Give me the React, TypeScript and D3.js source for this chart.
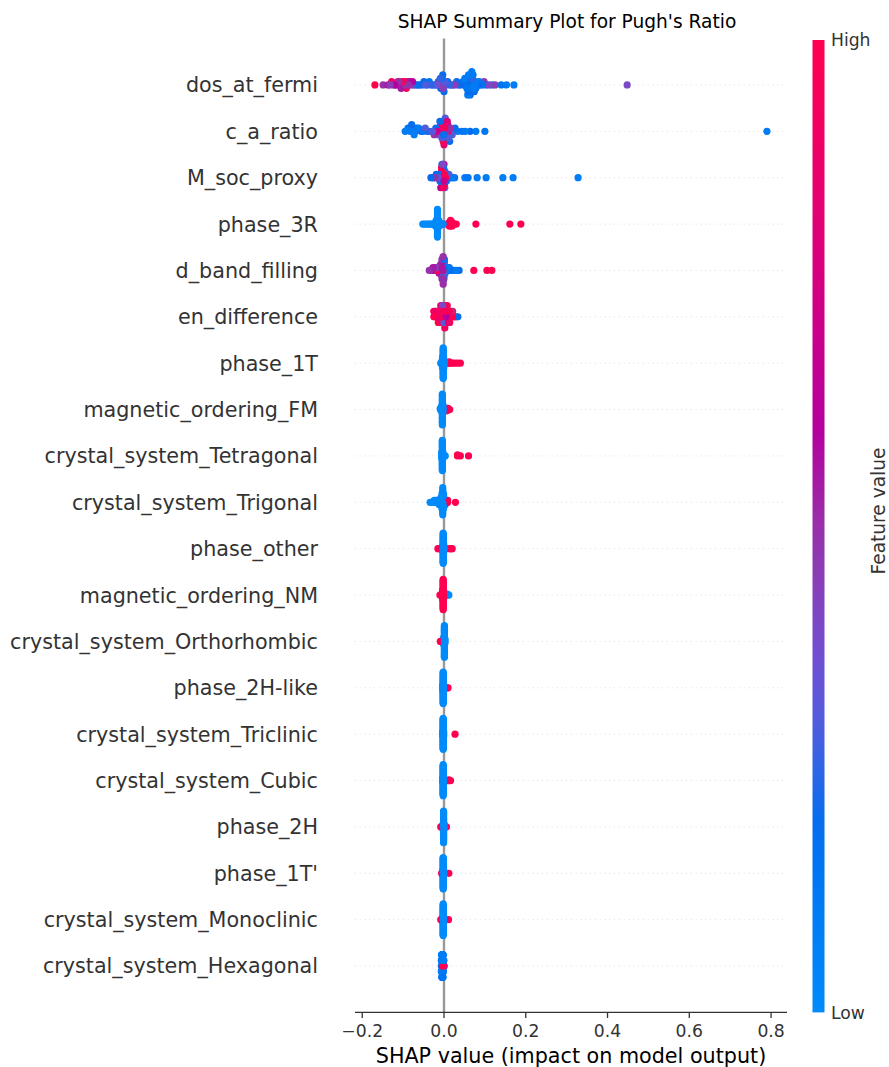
import * as d3 from "d3";
import { useEffect, useRef } from "react";

// [shap value, feature value (0 = low, 1 = high), how many samples]
type Pt = [number, number, number?];

const featureNames = [
  "dos_at_fermi",
  "c_a_ratio",
  "M_soc_proxy",
  "phase_3R",
  "d_band_filling",
  "en_difference",
  "phase_1T",
  "magnetic_ordering_FM",
  "crystal_system_Tetragonal",
  "crystal_system_Trigonal",
  "phase_other",
  "magnetic_ordering_NM",
  "crystal_system_Orthorhombic",
  "phase_2H-like",
  "crystal_system_Triclinic",
  "crystal_system_Cubic",
  "phase_2H",
  "phase_1T'",
  "crystal_system_Monoclinic",
  "crystal_system_Hexagonal",
];

const dosAtFermi: Pt[] = [
  [-0.169, 1], [-0.149, 0.5], [-0.137, 0.55], [-0.132, 0.45], [-0.128, 0.9], [-0.123, 0.5],
  [-0.12, 0.6], [-0.116, 0.45], [-0.113, 0.95], [-0.11, 0.5], [-0.107, 0.85], [-0.105, 0.55],
  [-0.102, 1], [-0.1, 0.45], [-0.097, 0.9], [-0.094, 0.5], [-0.092, 0.95], [-0.089, 0.55],
  [-0.086, 0.5], [-0.083, 1], [-0.08, 0.45], [-0.077, 0.6], [-0.074, 0.4],
  [-0.069, 0.3], [-0.064, 0.2], [-0.059, 0.25], [-0.054, 0.15], [-0.049, 0.2], [-0.045, 0.3],
  [-0.041, 0.2], [-0.036, 0.15], [-0.031, 0.25], [-0.027, 0.2],
  [-0.021, 0.2], [-0.017, 0.35], [-0.014, 0.2], [-0.011, 0.45], [-0.009, 0.25], [-0.008, 0.2],
  [-0.007, 0.5], [-0.005, 0.2], [-0.004, 0.3], [-0.003, 0.2], [-0.002, 0.45], [-0.001, 0.25],
  [0, 0.2], [0.002, 0.3], [0.004, 0.2],
  [0.009, 0.2], [0.013, 0.25], [0.018, 0.2], [0.022, 0.3], [0.027, 0.45], [0.031, 0.2],
  [0.036, 0.25], [0.04, 0.2],
  [0.046, 0.1], [0.049, 0.15], [0.051, 0.1], [0.053, 0.2], [0.055, 0.1], [0.056, 0.15],
  [0.057, 0.1], [0.058, 0.1], [0.059, 0.2], [0.06, 0.1, 2], [0.061, 0.15], [0.062, 0.1],
  [0.063, 0.1], [0.064, 0.2, 2], [0.065, 0.1], [0.066, 0.15], [0.067, 0.1, 2], [0.068, 0.1],
  [0.069, 0.25], [0.07, 0.1], [0.071, 0.15], [0.072, 0.1], [0.073, 0.1], [0.074, 0.2],
  [0.076, 0.1], [0.078, 0.15], [0.08, 0.1], [0.083, 0.2], [0.086, 0.1], [0.089, 0.15],
  [0.094, 0.15], [0.098, 0.45], [0.103, 0.2], [0.11, 0.4], [0.118, 0.2], [0.125, 0.45],
  [0.14, 0.15], [0.153, 0.1], [0.171, 0.1], [0.448, 0.4],
];

const cARatio: Pt[] = [
  [-0.095, 0.1], [-0.088, 0.15], [-0.083, 0.1], [-0.079, 0.2], [-0.077, 0.1], [-0.075, 0.15],
  [-0.073, 0.1], [-0.071, 0.2], [-0.067, 0.15], [-0.062, 0.1], [-0.056, 0.2], [-0.051, 0.15],
  [-0.046, 0.3], [-0.041, 0.2], [-0.036, 0.25],
  [-0.028, 0.3], [-0.024, 0.5], [-0.02, 0.2], [-0.017, 0.7], [-0.014, 0.4], [-0.012, 0.9],
  [-0.01, 0.2], [-0.008, 0.6], [-0.006, 0.95], [-0.005, 0.3], [-0.004, 0.8], [-0.003, 0.5],
  [-0.002, 1], [-0.001, 0.2], [0, 0.85], [0.001, 0.6], [0.002, 0.95], [0.003, 0.3],
  [0.004, 0.9], [0.005, 0.5], [0.006, 1], [0.007, 0.2], [0.008, 0.8], [0.009, 0.6],
  [0.01, 0.95], [0.011, 0.3], [0.012, 0.7], [0.014, 0.2], [0.016, 0.5], [0.018, 0.15], [0.02, 0.3],
  [0.027, 0.2], [0.033, 0.1], [0.044, 0.15], [0.052, 0.1], [0.064, 0.2], [0.078, 0.1],
  [0.1, 0.15], [0.79, 0.1],
];

const mSocProxy: Pt[] = [
  [-0.032, 0.2], [-0.028, 0.3], [-0.025, 0.15], [-0.022, 0.5], [-0.019, 0.2], [-0.016, 0.8],
  [-0.014, 0.3], [-0.012, 0.9], [-0.01, 0.2, 2], [-0.008, 0.6, 2], [-0.006, 1, 3],
  [-0.005, 0.2, 3], [-0.004, 0.85, 3], [-0.003, 0.4, 2], [-0.002, 0.95, 3], [-0.001, 0.2, 2],
  [0, 0.7, 2], [0.001, 1, 2], [0.002, 0.3, 2], [0.004, 0.9, 2], [0.006, 0.2, 2], [0.008, 0.6],
  [0.01, 0.2], [0.012, 0.3], [0.015, 0.15], [0.018, 0.2], [0.022, 0.1], [0.026, 0.2],
  [0.051, 0.1], [0.059, 0.15], [0.081, 0.1], [0.103, 0.1], [0.144, 0.1], [0.169, 0.1], [0.328, 0.1],
];

const phase3R: Pt[] = [
  [-0.052, 0], [-0.047, 0], [-0.042, 0], [-0.038, 0], [-0.034, 0], [-0.03, 0], [-0.027, 0],
  [-0.024, 0], [-0.021, 0, 3], [-0.019, 0, 4], [-0.016, 0, 16], [-0.013, 0, 4], [-0.011, 0, 3],
  [-0.008, 0], [-0.005, 0], [-0.002, 0], [0.001, 0],
  [0.01, 1], [0.013, 1, 3], [0.016, 1, 4], [0.02, 1, 3], [0.024, 1], [0.03, 1],
  [0.078, 1], [0.161, 1], [0.188, 1],
];

const dBandFilling: Pt[] = [
  [-0.036, 0.5], [-0.031, 0.45], [-0.027, 0.55, 2], [-0.022, 0.5, 2], [-0.018, 0.45, 2],
  [-0.015, 1, 2], [-0.012, 0.55, 3], [-0.009, 0.5, 4], [-0.007, 0.95, 2], [-0.005, 0.5, 8],
  [-0.004, 0.55, 6], [-0.003, 1, 2], [-0.002, 0.5, 9], [-0.001, 0.3, 4], [0, 0.15, 5],
  [0.001, 0.2, 3], [0.003, 0.1, 3], [0.006, 0.15, 2], [0.009, 0.1, 2], [0.013, 0.2, 2],
  [0.018, 0.1], [0.024, 0.15], [0.03, 0.1], [0.037, 0.2], [0.073, 1], [0.105, 1], [0.117, 1],
];

const enDifference: Pt[] = [
  [-0.025, 1, 2], [-0.021, 0.9, 2], [-0.018, 0.6, 2], [-0.014, 1, 3], [-0.011, 0.5, 2],
  [-0.008, 0.85, 4], [-0.005, 1, 3], [-0.003, 0.4, 4], [0, 0.3, 3], [0.002, 0.95, 5],
  [0.005, 0.6, 3], [0.008, 1, 4], [0.011, 0.9, 3], [0.014, 1, 3], [0.017, 0.35, 2],
  [0.021, 1, 2], [0.025, 0.9], [0.029, 1], [0.034, 0.2],
];

const phase1T: Pt[] = [
  [-0.008, 0], [-0.004, 0, 6], [-0.003, 0, 10], [-0.002, 0, 25], [-0.001, 0, 10], [0, 0, 5],
  [0.001, 0, 2], [0.01, 1], [0.013, 1, 2], [0.017, 1], [0.021, 1], [0.027, 1], [0.033, 1], [0.04, 1],
];

const magneticFM: Pt[] = [
  [-0.009, 0, 2], [-0.007, 0, 2], [-0.005, 0, 6], [-0.004, 0, 25], [-0.003, 0, 8], [-0.002, 0, 4],
  [0.004, 1, 2], [0.007, 1, 3], [0.01, 1, 2], [0.014, 1],
];

const tetragonal: Pt[] = [
  [-0.005, 0, 8], [-0.004, 0, 30], [-0.003, 0, 8], [0.003, 0], [0.033, 1, 2], [0.04, 1], [0.06, 1],
];

const trigonal: Pt[] = [
  [-0.034, 0], [-0.028, 0], [-0.024, 0, 2], [-0.02, 0, 2], [-0.016, 0, 2], [-0.012, 0, 3],
  [-0.008, 0, 4], [-0.005, 0, 8], [-0.003, 0, 14], [-0.001, 0, 8], [0.001, 1, 3], [0.003, 1, 3],
  [0.006, 1, 2], [0.009, 1, 2], [0.028, 1],
];

const phaseOther: Pt[] = [
  [-0.015, 1], [-0.011, 1], [-0.008, 1], [-0.003, 0, 6], [-0.002, 0, 30], [-0.001, 0, 10],
  [0, 0, 4], [0.003, 0], [0.013, 1], [0.017, 1], [0.02, 1],
];

const magneticNM: Pt[] = [
  [-0.01, 1], [-0.006, 1, 2], [-0.003, 1, 10], [-0.002, 1, 30], [-0.001, 1, 8],
  [0.004, 0], [0.008, 0, 2], [0.012, 0],
];

const orthorhombic: Pt[] = [
  [-0.009, 1], [-0.006, 1], [0, 0, 10], [0.001, 0, 35], [0.002, 0, 6],
];

const phase2HLike: Pt[] = [
  [-0.003, 0, 6], [-0.002, 0, 35], [-0.001, 0, 8], [0.008, 1], [0.01, 1],
];

const triclinic: Pt[] = [
  [-0.003, 0, 6], [-0.002, 0, 40], [-0.001, 0, 8], [0.027, 1],
];

const cubic: Pt[] = [
  [-0.003, 0, 6], [-0.002, 0, 40], [-0.001, 0, 8], [0.009, 1], [0.012, 1, 2], [0.016, 1],
];

const phase2H: Pt[] = [
  [-0.008, 1], [-0.005, 1], [-0.002, 0, 6], [-0.001, 0, 35], [0, 0, 6], [-0.002, 1],
  [0.003, 1], [0.006, 1],
];

const phase1TPrime: Pt[] = [
  [-0.006, 1], [-0.003, 0, 6], [-0.002, 0, 35], [-0.001, 0, 8], [0.012, 1],
];

const monoclinic: Pt[] = [
  [-0.008, 1], [-0.003, 0, 6], [-0.002, 0, 35], [-0.001, 0, 8], [0.011, 1],
];

const hexagonal: Pt[] = [
  [-0.0065, 0.1, 3], [-0.006, 0.1, 4], [-0.0057, 0.15, 3], [-0.0054, 0.1, 5], [-0.0051, 0.1, 4],
  [-0.0048, 0.2, 5], [-0.0045, 0.1, 5], [-0.0042, 0.1, 4], [-0.0039, 0.15, 5], [-0.0036, 0.1, 5],
  [-0.0033, 0.1, 4], [-0.003, 0.2, 5], [-0.0027, 0.1, 4], [-0.0024, 0.1, 5], [-0.0021, 0.15, 4],
  [-0.0018, 0.1, 3], [-0.0015, 0.1, 3], [-0.0012, 0.2, 2], [-0.0009, 0.1, 2], [-0.0004, 0.1, 2],
  [-0.0041, 1], [-0.0028, 0.9], [-0.0016, 0.6], [0.0005, 0.85],
];

const featureSamples = [
  dosAtFermi, cARatio, mSocProxy, phase3R, dBandFilling, enDifference, phase1T, magneticFM,
  tetragonal, trigonal, phaseOther, magneticNM, orthorhombic, phase2HLike, triclinic, cubic,
  phase2H, phase1TPrime, monoclinic, hexagonal,
];

const xTicks = [-0.2, 0, 0.2, 0.4, 0.6, 0.8];

// red_blue colour map (low -> high)
const cmapStops = [0, 0.19, 0.29, 0.36, 0.49, 0.6, 0.8, 1];
const cmapColors = ["#008afa", "#006fee", "#4c5edf", "#7050d2", "#9535aa", "#b4009e", "#de0077", "#ff0051"];

const W = 889;
const H = 1067;
const margin = { left: 355, right: 787, top: 38.6, bottom: 1012.4 };
const FONT = "'DejaVu Sans', sans-serif";

// deterministic tie-break used in place of shap's tiny random noise
const tie = (i: number) => (i * 0.6180339887) % 1;

// shap's beeswarm: bin along x, stack alternately up / down inside each bin
function swarm(values: number[], rowHeight = 0.4, nbins = 100) {
  const lo = d3.min(values) ?? 0;
  const hi = d3.max(values) ?? 0;
  const quant = values.map((v) => Math.round((nbins * (v - lo)) / (hi - lo + 1e-8)));
  const order = d3.range(values.length).sort((a, b) => quant[a] - quant[b] || tie(a) - tie(b));
  const ys = new Array(values.length).fill(0);
  let layer = 0;
  let last = -1;
  for (const i of order) {
    if (quant[i] !== last) layer = 0;
    ys[i] = Math.ceil(layer / 2) * ((layer % 2) * 2 - 1);
    layer += 1;
    last = quant[i];
  }
  const m = d3.max(ys, (v) => v + 1) ?? 1;
  return ys.map((v) => (v * 0.9 * rowHeight) / m);
}

export default function App() {
  const ref = useRef<SVGSVGElement>(null);

  useEffect(() => {
    document.body.style.margin = "0";
    const svg = d3.select(ref.current);
    svg.selectAll("*").remove();

    const n = featureNames.length;
    const x = d3.scaleLinear().domain([-0.2177, 0.839]).range([margin.left, margin.right]);
    const y = d3.scaleLinear().domain([-1, n]).range([margin.bottom, margin.top]);
    const color = d3
      .scaleLinear<string>()
      .domain(cmapStops)
      .range(cmapColors)
      .interpolate(d3.interpolateRgb)
      .clamp(true);

    // row guides
    const grid = svg.append("g");
    featureNames.forEach((_, i) => {
      const yy = y(n - 1 - i);
      grid
        .append("line")
        .attr("x1", margin.left)
        .attr("x2", margin.right)
        .attr("y1", yy)
        .attr("y2", yy)
        .attr("stroke", "#cccccc")
        .attr("stroke-width", 0.8)
        .attr("stroke-dasharray", "0.8 4");
    });

    svg
      .append("line")
      .attr("x1", x(0))
      .attr("x2", x(0))
      .attr("y1", margin.top)
      .attr("y2", margin.bottom)
      .attr("stroke", "#999999")
      .attr("stroke-width", 2.4);

    // dots, drawn in a shuffled (but fixed) order so colours mix like the original
    const dotsG = svg.append("g");
    featureSamples.forEach((pts, i) => {
      const samples: { v: number; f: number }[] = [];
      pts.forEach(([v, f, c = 1]) => {
        for (let k = 0; k < c; k++) samples.push({ v, f });
      });
      const ys = swarm(samples.map((d) => d.v));
      const pos = n - 1 - i;
      const order = d3.range(samples.length).sort((a, b) => tie(a * 7 + 3) - tie(b * 7 + 3));
      dotsG
        .append("g")
        .selectAll("circle")
        .data(order)
        .join("circle")
        .attr("cx", (k) => x(samples[k].v))
        .attr("cy", (k) => y(pos + ys[k]))
        .attr("r", 3.6)
        .attr("fill", (k) => color(samples[k].f));
    });

    // y labels
    const yLab = svg.append("g").attr("font-family", FONT).attr("font-size", 20.7).attr("fill", "#333333");
    featureNames.forEach((name, i) => {
      yLab
        .append("text")
        .attr("x", 318)
        .attr("y", y(n - 1 - i))
        .attr("dy", "0.36em")
        .attr("text-anchor", "end")
        .text(name);
    });

    // x axis
    const ax = svg.append("g");
    ax.append("line")
      .attr("x1", margin.left)
      .attr("x2", margin.right)
      .attr("y1", margin.bottom)
      .attr("y2", margin.bottom)
      .attr("stroke", "#333333")
      .attr("stroke-width", 1.3);
    xTicks.forEach((t) => {
      ax.append("line")
        .attr("x1", x(t))
        .attr("x2", x(t))
        .attr("y1", margin.bottom)
        .attr("y2", margin.bottom + 5.6)
        .attr("stroke", "#333333")
        .attr("stroke-width", 1.3);
      ax.append("text")
        .attr("x", x(t))
        .attr("y", 1037)
        .attr("text-anchor", "middle")
        .attr("font-family", FONT)
        .attr("font-size", 17.2)
        .attr("fill", "#333333")
        .text(d3.format(".1f")(t).replace("-", "\u2212"));
    });

    svg
      .append("text")
      .attr("x", (margin.left + margin.right) / 2)
      .attr("y", 1062.5)
      .attr("text-anchor", "middle")
      .attr("font-family", FONT)
      .attr("font-size", 20.7)
      .attr("fill", "#000")
      .text("SHAP value (impact on model output)");

    svg
      .append("text")
      .attr("x", 567)
      .attr("y", 27.5)
      .attr("text-anchor", "middle")
      .attr("font-family", FONT)
      .attr("font-size", 18.6)
      .attr("fill", "#000")
      .text("SHAP Summary Plot for Pugh's Ratio");

    // colour bar
    const cbTop = 40;
    const cbBottom = 1012.4;
    const grad = svg
      .append("defs")
      .append("linearGradient")
      .attr("id", "cb-grad")
      .attr("x1", 0)
      .attr("y1", 1)
      .attr("x2", 0)
      .attr("y2", 0);
    d3.range(0, 1.0001, 0.05).forEach((t) => {
      grad.append("stop").attr("offset", t).attr("stop-color", color(t));
    });
    svg
      .append("rect")
      .attr("x", 812.5)
      .attr("y", cbTop)
      .attr("width", 12)
      .attr("height", cbBottom - cbTop)
      .attr("fill", "url(#cb-grad)");

    const cbLab = svg.append("g").attr("font-family", FONT).attr("font-size", 17.2).attr("fill", "#333333");
    cbLab.append("text").attr("x", 831).attr("y", cbTop).attr("dy", "0.36em").text("High");
    cbLab.append("text").attr("x", 831).attr("y", cbBottom).attr("dy", "0.36em").text("Low");

    svg
      .append("text")
      .attr("transform", `translate(878, 511) rotate(-90)`)
      .attr("text-anchor", "middle")
      .attr("dy", "0.36em")
      .attr("font-family", FONT)
      .attr("font-size", 18.6)
      .attr("fill", "#333333")
      .text("Feature value");
  }, []);

  return <svg ref={ref} width={W} height={H} style={{ display: "block", background: "#fff" }} />;
}
